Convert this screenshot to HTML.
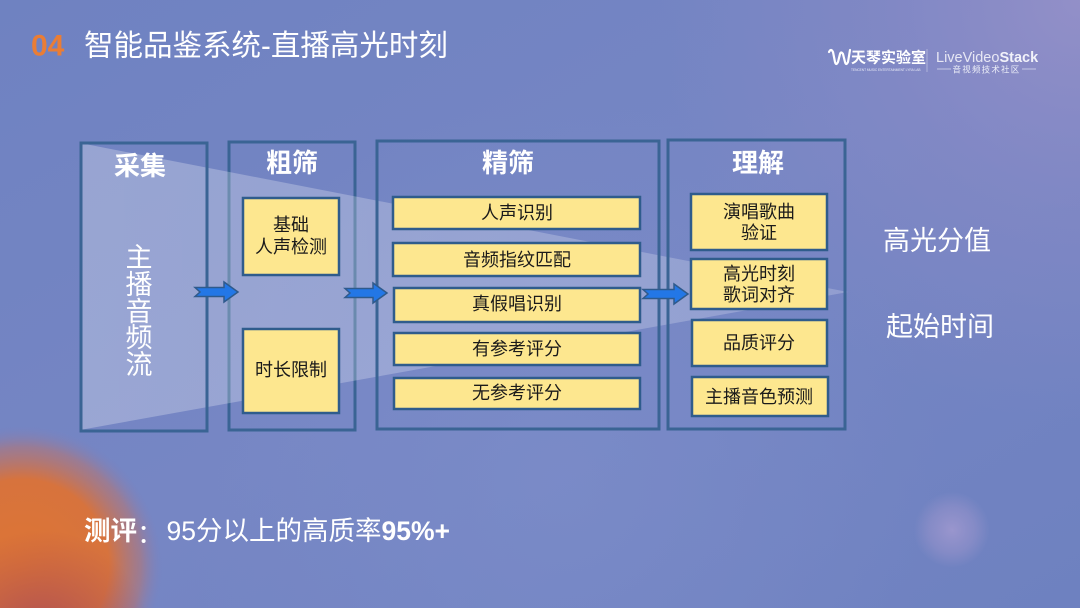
<!DOCTYPE html>
<html>
<head>
<meta charset="utf-8">
<style>
html,body{margin:0;padding:0;width:1080px;height:608px;overflow:hidden;background:#7184c2;}
svg{display:block;position:absolute;left:0;top:0;overflow:hidden;}
text{font-family:"Liberation Sans","Noto Sans CJK SC",sans-serif;}
</style>
</head>
<body>
<svg width="1080" height="608" viewBox="0 0 1080 608" xmlns="http://www.w3.org/2000/svg">
<defs>
  <linearGradient id="bg" x1="0" y1="0" x2="1" y2="1">
    <stop offset="0" stop-color="#6f82c1"/>
    <stop offset="0.5" stop-color="#7686c4"/>
    <stop offset="1" stop-color="#6e81c0"/>
  </linearGradient>
  <radialGradient id="tr" cx="1080" cy="0" r="420" gradientUnits="userSpaceOnUse">
    <stop offset="0" stop-color="#9490c8" stop-opacity="0.95"/>
    <stop offset="0.5" stop-color="#8a8ac6" stop-opacity="0.5"/>
    <stop offset="1" stop-color="#8a8ac6" stop-opacity="0"/>
  </radialGradient>
  <radialGradient id="mid" cx="560" cy="480" r="380" gradientUnits="userSpaceOnUse">
    <stop offset="0" stop-color="#8090cc" stop-opacity="0.5"/>
    <stop offset="1" stop-color="#8090cc" stop-opacity="0"/>
  </radialGradient>
  <radialGradient id="org" cx="22" cy="566" r="140" gradientUnits="userSpaceOnUse">
    <stop offset="0" stop-color="#de7534" stop-opacity="1"/>
    <stop offset="0.62" stop-color="#dc7236" stop-opacity="0.95"/>
    <stop offset="0.85" stop-color="#c8705a" stop-opacity="0.45"/>
    <stop offset="1" stop-color="#8a7ab0" stop-opacity="0"/>
  </radialGradient>
  <radialGradient id="red" cx="40" cy="640" r="110" gradientUnits="userSpaceOnUse">
    <stop offset="0" stop-color="#a4465a" stop-opacity="0.8"/>
    <stop offset="1" stop-color="#a4465a" stop-opacity="0"/>
  </radialGradient>
  <radialGradient id="pale" cx="952" cy="530" r="38" gradientUnits="userSpaceOnUse">
    <stop offset="0" stop-color="#9e98cf" stop-opacity="0.9"/>
    <stop offset="0.6" stop-color="#9a94cc" stop-opacity="0.5"/>
    <stop offset="1" stop-color="#9a94cc" stop-opacity="0"/>
  </radialGradient>
  <linearGradient id="funnel" x1="0" y1="0" x2="1" y2="0">
    <stop offset="0" stop-color="#ffffff" stop-opacity="0.27"/>
    <stop offset="1" stop-color="#ffffff" stop-opacity="0.2"/>
  </linearGradient>
</defs>

<!-- background -->
<rect x="0" y="0" width="1080" height="608" fill="url(#bg)"/>
<rect x="0" y="0" width="1080" height="608" fill="url(#mid)"/>
<rect x="0" y="0" width="1080" height="608" fill="url(#tr)"/>
<rect x="0" y="0" width="1080" height="608" fill="url(#org)"/>
<rect x="0" y="0" width="1080" height="608" fill="url(#red)"/>
<rect x="0" y="0" width="1080" height="608" fill="url(#pale)"/>

<!-- title -->
<text x="31" y="46" font-size="30" font-weight="bold" fill="#ea7d35" dominant-baseline="central">04</text>
<text x="84" y="46" font-size="29.5" fill="#ffffff" dominant-baseline="central">智能品鉴系统-直播高光时刻</text>

<!-- logos -->
<path d="M829 52 q2 -4 4 0 l2 10 q1 4 3 0 l2 -8 q1 -3 3 0 l2 8 q1 4 3 0 l2 -12" fill="none" stroke="#ffffff" stroke-width="2.2" stroke-linecap="round" stroke-linejoin="round"/>
<text x="851" y="58" font-size="15" font-weight="bold" fill="#ffffff" dominant-baseline="central">天琴实验室</text>
<text x="851" y="70" font-size="3.2" fill="#e8eaf6" dominant-baseline="central">TENCENT MUSIC ENTERTAINMENT LYRA LAB</text>
<line x1="927" y1="49" x2="927" y2="72" stroke="#c8cce8" stroke-width="0.8" opacity="0.8"/>
<text x="936" y="58" font-size="14.5" fill="#f2f2fa" dominant-baseline="central"><tspan font-weight="normal" opacity="0.9">LiveVideo</tspan><tspan font-weight="bold">Stack</tspan></text>
<line x1="937" y1="69" x2="951" y2="69" stroke="#dfe1f2" stroke-width="0.7"/>
<line x1="1022" y1="69" x2="1036" y2="69" stroke="#dfe1f2" stroke-width="0.7"/>
<text x="986.5" y="69.5" font-size="8.5" fill="#eceef8" text-anchor="middle" dominant-baseline="central" letter-spacing="1.2">音视频技术社区</text>

<!-- 粗筛 box under funnel -->
<rect x="229" y="142" width="126" height="288" fill="none" stroke="#3a6494" stroke-width="3"/>

<!-- funnel -->
<polygon points="80,143 848,292 80,430" fill="url(#funnel)"/>

<!-- column boxes -->
<rect x="81" y="143" width="126" height="288" fill="none" stroke="#3a6494" stroke-width="3"/>
<rect x="377" y="141" width="282" height="288" fill="none" stroke="#3a6494" stroke-width="3"/>
<rect x="668" y="140" width="177" height="289" fill="none" stroke="#3a6494" stroke-width="3"/>

<!-- headers -->
<g font-size="26" font-weight="bold" fill="#ffffff" text-anchor="middle" dominant-baseline="central">
  <text x="140" y="166">采集</text>
  <text x="292" y="163">粗筛</text>
  <text x="508" y="163">精筛</text>
  <text x="758" y="163">理解</text>
</g>

<!-- vertical text -->
<g font-size="27" fill="#ffffff" text-anchor="middle" dominant-baseline="central">
  <text x="139" y="258">主</text>
  <text x="139" y="285">播</text>
  <text x="139" y="312">音</text>
  <text x="139" y="338">频</text>
  <text x="139" y="365">流</text>
</g>

<!-- yellow boxes -->
<g fill="#fde78f" stroke="#2f5c8c" stroke-width="2.5">
  <rect x="243" y="198" width="96" height="77"/>
  <rect x="243" y="329" width="96" height="84"/>
  <rect x="393" y="197" width="247" height="32"/>
  <rect x="393" y="243" width="247" height="33"/>
  <rect x="394" y="288" width="246" height="34"/>
  <rect x="394" y="333" width="246" height="32"/>
  <rect x="394" y="378" width="246" height="31"/>
  <rect x="691" y="194" width="136" height="56"/>
  <rect x="691" y="259" width="136" height="50"/>
  <rect x="692" y="320" width="135" height="46"/>
  <rect x="692" y="377" width="136" height="39"/>
</g>

<g font-size="18" fill="#1a1a1a" text-anchor="middle" dominant-baseline="central">
  <text x="291" y="225">基础</text>
  <text x="291" y="247">人声检测</text>
  <text x="291" y="370">时长限制</text>
  <text x="517" y="213">人声识别</text>
  <text x="517" y="260">音频指纹匹配</text>
  <text x="517" y="304">真假唱识别</text>
  <text x="517" y="349">有参考评分</text>
  <text x="517" y="393">无参考评分</text>
  <text x="759" y="212">演唱歌曲</text>
  <text x="759" y="233">验证</text>
  <text x="759" y="274">高光时刻</text>
  <text x="759" y="295">歌词对齐</text>
  <text x="759" y="343">品质评分</text>
  <text x="759" y="397">主播音色预测</text>
</g>

<!-- arrows -->
<g fill="#2377e6" stroke="#2f5a8c" stroke-width="1.5" stroke-linejoin="miter">
  <polygon points="195,287.5 224,287.5 224,282 238,292 224,302 224,296.5 195,296.5 200,292"/>
  <polygon points="345,288.5 373,288.5 373,283 387,293 373,303 373,297.5 345,297.5 350,293"/>
  <polygon points="643,289.5 674,289.5 674,284 688,294 674,304 674,298.5 643,298.5 648,294"/>
</g>

<!-- outputs -->
<g font-size="27" fill="#ffffff" dominant-baseline="central">
  <text x="883" y="241">高光分值</text>
  <text x="886" y="327">起始时间</text>
</g>

<!-- bottom text -->
<text x="84" y="531" font-size="26.5" fill="#ffffff" dominant-baseline="central"><tspan font-weight="bold">测评</tspan><tspan font-family="Noto Sans CJK SC, sans-serif">：</tspan><tspan dx="3">95分以上的高质率</tspan><tspan font-weight="bold">95%+</tspan></text>
</svg>
</body>
</html>
